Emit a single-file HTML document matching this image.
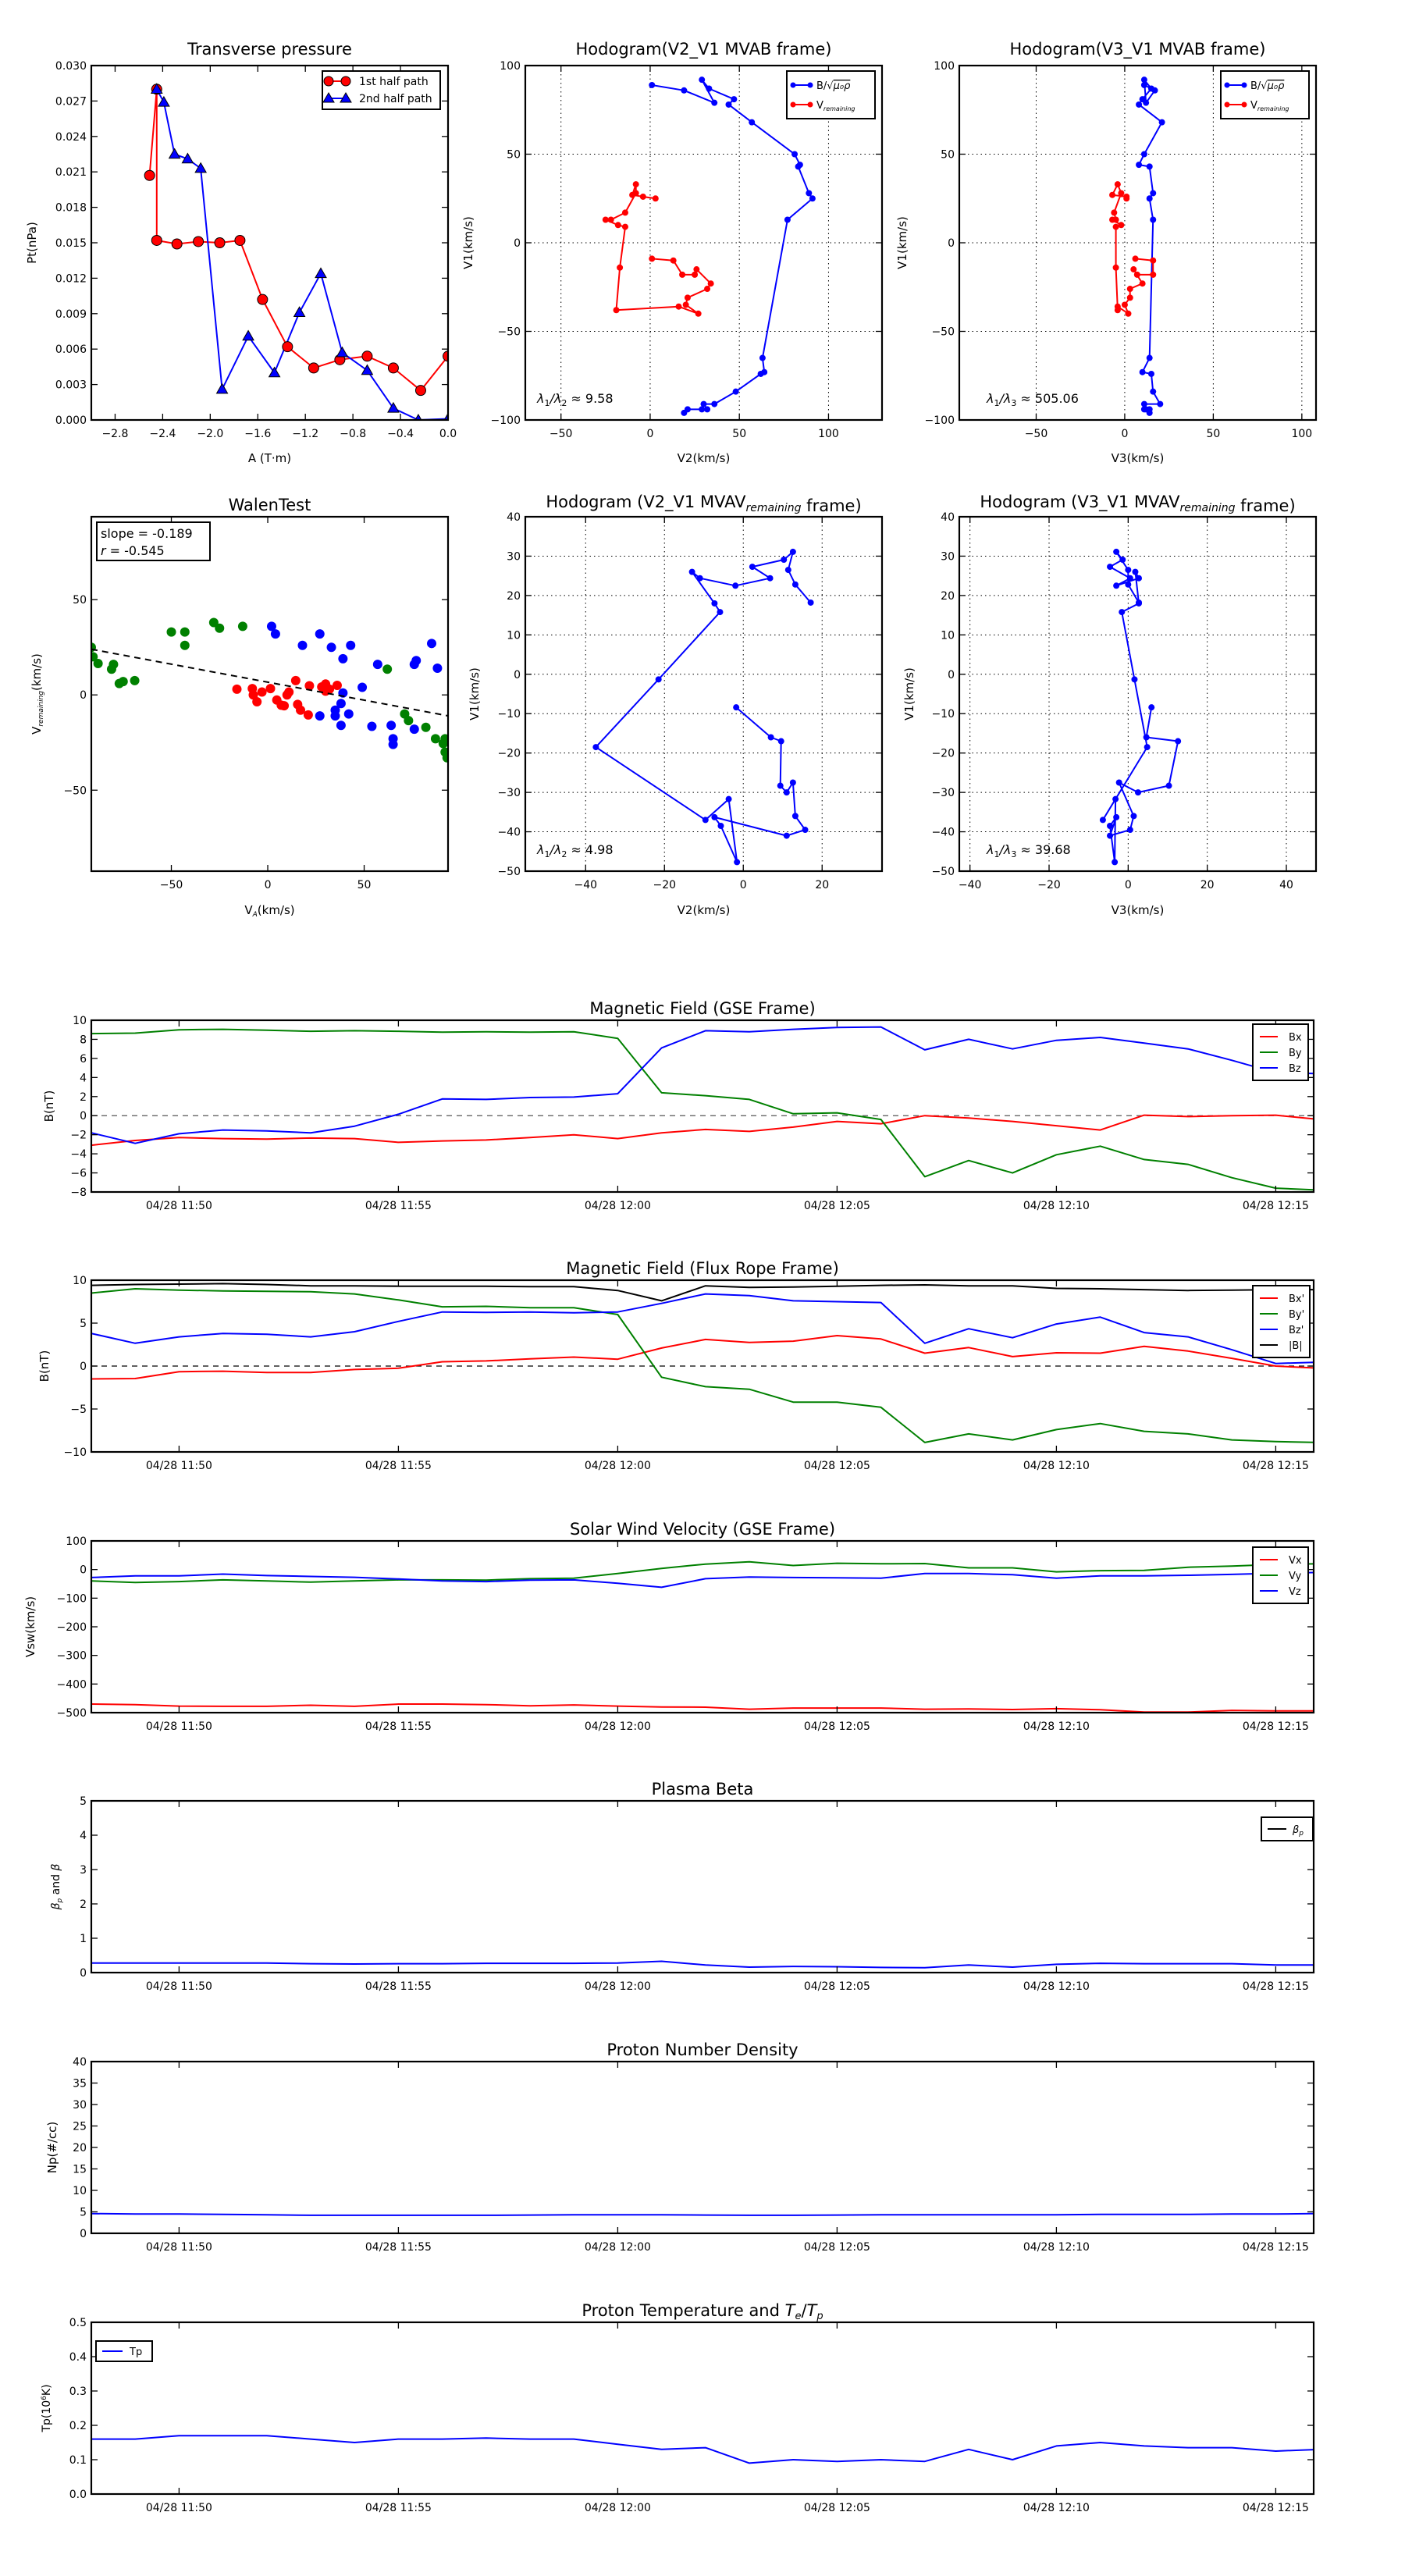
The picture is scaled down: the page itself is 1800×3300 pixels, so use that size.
<!DOCTYPE html>
<html><head><meta charset="utf-8"><title>Flux rope analysis</title>
<style>
html,body{margin:0;padding:0;background:#fff;}
svg{display:block;font-family:"DejaVu Sans","Liberation Sans",sans-serif;}
</style></head>
<body>
<svg id="fig" width="1800" height="3300" viewBox="0 0 1800 3300" xmlns="http://www.w3.org/2000/svg">
<rect x="0" y="0" width="1800" height="3300" fill="#fff"/>
</svg>
<script>
// ===== DATA =====
// Transverse pressure
const ptA1 = [-2.51,-2.45,-2.45,-2.28,-2.10,-1.92,-1.75,-1.56,-1.35,-1.13,-0.91,-0.68,-0.46,-0.23,0.0];
const ptP1 = [0.0207,0.0280,0.0152,0.0149,0.0151,0.0150,0.0152,0.0102,0.0062,0.0044,0.0051,0.0054,0.0044,0.0025,0.0054];
const ptA2 = [-2.45,-2.39,-2.30,-2.19,-2.08,-1.90,-1.68,-1.46,-1.25,-1.07,-0.89,-0.68,-0.46,-0.25,0.0];
const ptP2 = [0.0280,0.0269,0.0225,0.0221,0.0213,0.0026,0.0071,0.0040,0.0091,0.0124,0.0057,0.0042,0.0010,0.0,0.0001];
// Hodogram MVAB
const mvabV1 = [89,86,79,92,87,81,78,68,50,44,43,28,25,13,-65,-73,-74,-84,-91,-91,-94,-94,-94,-96];
const mvabV2 = [1,19,36,29,33,47,44,57,81,84,83,89,91,77,63,64,62,48,36,30,32,29,21,19];
const mvabV3 = [11,17,12,11,15,10,8,21,11,8,14,16,14,16,14,10,15,16,20,11,12,14,11,14];
const remV1 = [25,26,27,33,28,17,13,13,10,9,-14,-38,-36,-40,-35,-31,-26,-23,-15,-18,-18,-10,-9];
const remV2 = [3,-4,-10,-8,-8,-14,-22,-25,-18,-14,-17,-19,16,27,20,21,32,34,26,25,18,13,1];
const remV3 = [1,1,-7,-4,-2,-6,-5,-7,-2,-5,-5,-4,-4,2,0,3,3,10,5,7,16,16,6];
// Walen test
const walGx = [-91.5,-90.6,-88,-81,-80,-77,-75,-69,-50,-43,-43,-28,-25,-13,62,71,73,82,87,91,92,93,92];
const walGy = [25,20,16.5,13.5,16,6,7,7.5,33,33,26,38,35,36,13.5,-10,-13.5,-17,-23,-25.5,-30,-33,-23];
const walBx = [2,4,18,27,33,43,39,49,39,38,35,42,35,27,38,54,57,76,77,85,88,64,65,65,76];
const walBy = [36,32,26,32,25,26,19,4,1,-4.5,-8,-10,-11,-11,-16,-16.5,16,16,18,27,14,-16,-23,-26,-18];
const walRx = [-16,-8,-7.5,-5.6,-3,1.4,4.7,7,8.5,10,11,14.5,15.5,17,21,21.6,28,30,32,36,30];
const walRy = [3,3.3,0,-3.6,1.5,3.3,-2.7,-5.4,-5.7,0,1.5,7.5,-5,-8,-10.5,4.8,4.2,5.7,3,5,2];
const walSlope = -0.189;
const walIntercept = 6.7;
// Hodogram MVAV remaining
const mvavV1 = [-8.4,-16,-17,-28.3,-30,-27.5,-36,-39.5,-41,-36.3,-38.5,-47.7,-31.7,-37,-18.5,-1.3,15.8,18,26,24.4,22.5,24.4,27.3,29.1,31.1,26.5,22.8,18.2];
const mvavV2 = [-1.8,7,9.6,9.4,11,12.6,13.2,15.7,11,-7.3,-5.7,-1.6,-3.7,-9.6,-37.4,-21.5,-5.9,-7.3,-13,-11,-2,6.8,2.3,10.3,12.6,11.4,13.2,17.1];
const mvavV3 = [5.9,4.6,12.6,10.3,2.5,-2.3,1.4,0.5,-4.6,-3,-4.6,-3.4,-3.2,-6.4,4.8,1.6,-1.6,2.7,1.8,2.7,-3,0.5,-4.6,-1.4,-3,0,0,2.7];
// Time series (minutes after 11:48)
const minutes = [0,1,2,3,4,5,6,7,8,9,10,11,12,13,14,15,16,17,18,19,20,21,22,23,24,25,26,27,28];
const gseBx = [-3.1,-2.6,-2.3,-2.4,-2.45,-2.35,-2.4,-2.8,-2.65,-2.55,-2.3,-2.0,-2.4,-1.8,-1.45,-1.65,-1.2,-0.6,-0.85,0.0,-0.25,-0.6,-1.05,-1.5,0.05,-0.1,0.0,0.05,-0.4];
const gseBy = [8.6,8.65,9.0,9.05,8.95,8.85,8.9,8.85,8.75,8.8,8.75,8.8,8.1,2.4,2.1,1.7,0.2,0.3,-0.4,-6.4,-4.7,-6.0,-4.1,-3.2,-4.6,-5.1,-6.5,-7.6,-7.8];
const gseBz = [-1.8,-2.9,-1.9,-1.5,-1.6,-1.8,-1.1,0.15,1.75,1.7,1.9,1.95,2.3,7.1,8.9,8.8,9.05,9.25,9.3,6.9,8.0,7.0,7.9,8.2,7.6,7.0,5.8,4.5,4.4];
const frBx = [-1.5,-1.45,-0.65,-0.6,-0.75,-0.75,-0.4,-0.25,0.5,0.6,0.85,1.05,0.8,2.1,3.1,2.75,2.9,3.55,3.15,1.5,2.15,1.1,1.55,1.5,2.3,1.75,0.9,0.0,-0.25];
const frBy = [8.5,9.0,8.85,8.75,8.7,8.65,8.4,7.7,6.9,6.95,6.8,6.8,6.0,-1.3,-2.4,-2.7,-4.2,-4.2,-4.8,-8.9,-7.9,-8.6,-7.4,-6.7,-7.6,-7.9,-8.6,-8.8,-8.9];
const frBz = [3.8,2.65,3.4,3.8,3.7,3.4,4.0,5.2,6.3,6.25,6.3,6.2,6.3,7.3,8.4,8.2,7.6,7.5,7.4,2.65,4.35,3.3,4.9,5.7,3.9,3.4,1.9,0.3,0.45];
const frBt = [9.4,9.5,9.55,9.6,9.5,9.35,9.35,9.3,9.3,9.3,9.25,9.25,8.8,7.6,9.35,9.15,9.2,9.3,9.4,9.45,9.35,9.35,9.05,9.0,8.9,8.8,8.85,8.9,8.9];
const vx = [-470,-472,-477,-478,-478,-474,-478,-470,-470,-472,-476,-473,-477,-480,-481,-488,-484,-484,-484,-488,-487,-489,-486,-490,-498,-498,-492,-494,-494];
const vy = [-40,-45,-42,-36,-40,-44,-40,-36,-36,-37,-32,-30,-14,4,19,27,14,22,20,21,6,6,-8,-4,-3,8,12,18,20];
const vz = [-28,-22,-22,-16,-21,-24,-27,-33,-40,-42,-37,-36,-48,-62,-32,-26,-28,-29,-30,-14,-14,-18,-30,-22,-22,-20,-17,-13,-10];
const betaP = [0.28,0.28,0.28,0.28,0.28,0.26,0.25,0.26,0.26,0.27,0.27,0.27,0.28,0.33,0.22,0.16,0.18,0.17,0.15,0.14,0.22,0.16,0.24,0.27,0.26,0.26,0.26,0.22,0.22];
const np = [4.6,4.5,4.5,4.4,4.3,4.2,4.2,4.2,4.2,4.2,4.25,4.3,4.3,4.3,4.25,4.2,4.2,4.25,4.3,4.3,4.3,4.3,4.3,4.4,4.4,4.4,4.5,4.5,4.6];
const tp = [0.16,0.16,0.17,0.17,0.17,0.16,0.15,0.16,0.16,0.163,0.16,0.16,0.145,0.13,0.135,0.09,0.10,0.095,0.10,0.095,0.13,0.10,0.14,0.15,0.14,0.135,0.135,0.125,0.13];
const timeTicks = [2,7,12,17,22,27];
const timeTickLabels = ['04/28 11:50','04/28 11:55','04/28 12:00','04/28 12:05','04/28 12:10','04/28 12:15'];

// ===== HELPERS =====
const NS = 'http://www.w3.org/2000/svg';
const svg = document.getElementById('fig');
function mk(parent, tag, attrs, name, text) {
  const el = document.createElementNS(NS, tag);
  for (const k in attrs) el.setAttribute(k, attrs[k]);
  
  
  if (text !== undefined && text !== null) el.textContent = text;
  parent.appendChild(el);
  return el;
}
function fmtNum(v, d) { const s = v.toFixed(d); return s.replace('-', '\u2212'); }
let clipId = 0;
function axes(name, L, T, W, H, xr, yr) {
  const g = mk(svg, 'g', {}, name);
  const sx = v => L + (v - xr[0]) / (xr[1] - xr[0]) * W;
  const sy = v => T + H - (v - yr[0]) / (yr[1] - yr[0]) * H;
  const cid = 'clip' + (clipId++);
  const defs = mk(g, 'defs', {}, name + '-defs');
  const cp = mk(defs, 'clipPath', {id: cid}, name + '-clip');
  mk(cp, 'rect', {x: L, y: T, width: W, height: H}, name + '-clip-rect');
  const plot = mk(g, 'g', {'clip-path': 'url(#' + cid + ')'}, name + '-plot-area');
  return {g, plot, sx, sy, L, T, W, H, xr, yr};
}
function grid(ax, xt, yt) {
  xt.forEach(v => mk(ax.plot, 'line', {x1: ax.sx(v), x2: ax.sx(v), y1: ax.T, y2: ax.T + ax.H, stroke: '#000', 'stroke-width': 1, 'stroke-dasharray': '1.5,4'}, 'x-gridline'));
  yt.forEach(v => mk(ax.plot, 'line', {x1: ax.L, x2: ax.L + ax.W, y1: ax.sy(v), y2: ax.sy(v), stroke: '#000', 'stroke-width': 1, 'stroke-dasharray': '1.5,4'}, 'y-gridline'));
}
function frame(ax, xt, xl, yt, yl, fs) {
  fs = fs || 14;
  const g = ax.g, B = ax.T + ax.H, R = ax.L + ax.W;
  xt.forEach((v, i) => {
    const x = ax.sx(v);
    mk(g, 'line', {x1: x, x2: x, y1: B, y2: B - 8, stroke: '#000', 'stroke-width': 1.3}, 'x-tick');
    mk(g, 'line', {x1: x, x2: x, y1: ax.T, y2: ax.T + 8, stroke: '#000', 'stroke-width': 1.3}, 'x-tick-top');
    mk(g, 'text', {x: x, y: B + 22, 'font-size': fs, 'text-anchor': 'middle'}, 'x-tick-label', xl[i]);
  });
  yt.forEach((v, i) => {
    const y = ax.sy(v);
    mk(g, 'line', {x1: ax.L, x2: ax.L + 8, y1: y, y2: y, stroke: '#000', 'stroke-width': 1.3}, 'y-tick');
    mk(g, 'line', {x1: R, x2: R - 8, y1: y, y2: y, stroke: '#000', 'stroke-width': 1.3}, 'y-tick-right');
    mk(g, 'text', {x: ax.L - 6, y: y + 5, 'font-size': fs, 'text-anchor': 'end'}, 'y-tick-label', yl[i]);
  });
  mk(g, 'rect', {x: ax.L, y: ax.T, width: ax.W, height: ax.H, fill: 'none', stroke: '#000', 'stroke-width': 2.2}, 'axes-frame');
}
function line(ax, xs, ys, color, name, w) {
  const pts = xs.map((x, i) => ax.sx(x).toFixed(1) + ',' + ax.sy(ys[i]).toFixed(1)).join(' ');
  return mk(ax.plot, 'polyline', {points: pts, fill: 'none', stroke: color, 'stroke-width': w || 2, 'stroke-linejoin': 'round'}, name);
}
function dots(ax, xs, ys, color, r, name, stroke) {
  xs.forEach((x, i) => mk(ax.plot, 'circle', {cx: ax.sx(x), cy: ax.sy(ys[i]), r: r, fill: color, stroke: stroke || 'none', 'stroke-width': 1}, name));
}
function tris(ax, xs, ys, color, s, name) {
  xs.forEach((x, i) => {
    const cx = ax.sx(x), cy = ax.sy(ys[i]);
    mk(ax.plot, 'polygon', {points: `${cx},${cy - s} ${cx - s},${cy + s * 0.75} ${cx + s},${cy + s * 0.75}`, fill: color, stroke: '#000', 'stroke-width': 1}, name);
  });
}
function title(ax, parts, name, y) {
  const t = mk(svg, 'text', {x: ax.L + ax.W / 2, y: y, 'font-size': 21, 'text-anchor': 'middle'}, name);
  parts.forEach(p => {
    if (typeof p === 'string') { mk(t, 'tspan', {}, name + '-part', p); }
    else { mk(t, 'tspan', {'font-size': 14, 'font-style': 'italic', dy: 5}, name + '-subscript', p.sub); mk(t, 'tspan', {dy: -5}, name + '-part', ''); }
  });
  return t;
}
function ylabel(x, y, text, name, fs) {
  return mk(svg, 'text', {x: x, y: y, 'font-size': fs || 15, 'text-anchor': 'middle', transform: `rotate(-90 ${x} ${y})`}, name, text);
}
function range(a, b, s) { const r = []; for (let v = a; v <= b + 1e-9; v += s) r.push(+v.toFixed(6)); return r; }

// ===== ROW 1 =====
const T1 = 84, H1 = 454, W1 = 457, T2 = 662;
const LX = [117, 673, 1229];

// Panel: Transverse pressure
{
  const ax = axes('transverse-pressure-chart', LX[0], T1, W1, H1, [-3.0, 0.0], [0, 0.030]);
  line(ax, ptA1, ptP1, '#ff0000', 'first-half-line', 2);
  line(ax, ptA2, ptP2, '#0000ff', 'second-half-line', 2);
  dots(ax, ptA1, ptP1, '#ff0000', 6.5, 'first-half-point', '#000');
  tris(ax, ptA2, ptP2, '#0000ff', 7, 'second-half-point');
  const xt = range(-2.8, 0.0, 0.4);
  const yt = range(0, 0.030, 0.003);
  frame(ax, xt, xt.map(v => fmtNum(v, 1)), yt, yt.map(v => fmtNum(v, 3)));
  title(ax, ['Transverse pressure'], 'transverse-pressure-title', 70);
  mk(svg, 'text', {x: ax.L + ax.W / 2, y: 592, 'font-size': 15, 'text-anchor': 'middle'}, 'x-axis-title', 'A (T\u00b7m)');
  ylabel(46, T1 + H1 / 2, 'Pt(nPa)', 'y-axis-title');
  const lg = mk(svg, 'g', {}, 'legend');
  mk(lg, 'rect', {x: 413, y: 91, width: 151, height: 49, fill: '#fff', stroke: '#000', 'stroke-width': 2}, 'legend-box');
  mk(lg, 'line', {x1: 421, x2: 443, y1: 104, y2: 104, stroke: '#ff0000', 'stroke-width': 2}, 'legend-line');
  mk(lg, 'circle', {cx: 421, cy: 104, r: 6, fill: '#ff0000', stroke: '#000'}, 'legend-marker');
  mk(lg, 'circle', {cx: 443, cy: 104, r: 6, fill: '#ff0000', stroke: '#000'}, 'legend-marker');
  mk(lg, 'text', {x: 460, y: 109, 'font-size': 14}, 'legend-entry', '1st half path');
  mk(lg, 'line', {x1: 421, x2: 443, y1: 126, y2: 126, stroke: '#0000ff', 'stroke-width': 2}, 'legend-line');
  mk(lg, 'polygon', {points: '421,119 414,131 428,131', fill: '#0000ff', stroke: '#000'}, 'legend-marker');
  mk(lg, 'polygon', {points: '443,119 436,131 450,131', fill: '#0000ff', stroke: '#000'}, 'legend-marker');
  mk(lg, 'text', {x: 460, y: 131, 'font-size': 14}, 'legend-entry', '2nd half path');
}

function hodoLegend(x, y) {
  const lg = mk(svg, 'g', {}, 'legend');
  mk(lg, 'rect', {x: x, y: y, width: 113, height: 61, fill: '#fff', stroke: '#000', 'stroke-width': 2}, 'legend-box');
  mk(lg, 'line', {x1: x + 8, x2: x + 30, y1: y + 18, y2: y + 18, stroke: '#0000ff', 'stroke-width': 2}, 'legend-line');
  mk(lg, 'circle', {cx: x + 8, cy: y + 18, r: 3.5, fill: '#0000ff'}, 'legend-marker');
  mk(lg, 'circle', {cx: x + 30, cy: y + 18, r: 3.5, fill: '#0000ff'}, 'legend-marker');
  const t1 = mk(lg, 'text', {x: x + 38, y: y + 23, 'font-size': 13}, 'legend-entry');
  mk(t1, 'tspan', {}, 'legend-text', 'B/\u221a');
  mk(t1, 'tspan', {'font-style': 'italic', 'text-decoration': 'overline'}, 'legend-text', '\u03bc\u2080\u03c1');
  mk(lg, 'line', {x1: x + 8, x2: x + 30, y1: y + 43, y2: y + 43, stroke: '#ff0000', 'stroke-width': 2}, 'legend-line');
  mk(lg, 'circle', {cx: x + 8, cy: y + 43, r: 3.5, fill: '#ff0000'}, 'legend-marker');
  mk(lg, 'circle', {cx: x + 30, cy: y + 43, r: 3.5, fill: '#ff0000'}, 'legend-marker');
  const t2 = mk(lg, 'text', {x: x + 38, y: y + 48, 'font-size': 13}, 'legend-entry');
  mk(t2, 'tspan', {}, 'legend-text', 'V');
  mk(t2, 'tspan', {'font-size': 8, 'font-style': 'italic', dy: 3}, 'legend-subscript', 'remaining');
}
function lambdaText(x, y, k, val) {
  const t = mk(svg, 'text', {x: x, y: y, 'font-size': 16}, 'eigenvalue-ratio');
  mk(t, 'tspan', {'font-style': 'italic'}, 'lambda', '\u03bb');
  mk(t, 'tspan', {'font-size': 11, dy: 4}, 'lambda-sub', '1');
  mk(t, 'tspan', {dy: -4, 'font-style': 'italic'}, 'lambda', '/\u03bb');
  mk(t, 'tspan', {'font-size': 11, dy: 4}, 'lambda-sub', k);
  mk(t, 'tspan', {dy: -4}, 'lambda-value', ' \u2248 ' + val);
}

// Hodogram V2_V1 MVAB
{
  const ax = axes('hodogram-v2-v1-mvab', LX[1], T1, W1, H1, [-70, 130], [-100, 100]);
  const xt = [-50, 0, 50, 100], yt = [-100, -50, 0, 50, 100];
  grid(ax, xt, yt);
  line(ax, mvabV2, mvabV1, '#0000ff', 'b-hodogram-line', 2);
  dots(ax, mvabV2, mvabV1, '#0000ff', 4, 'b-hodogram-point');
  line(ax, remV2, remV1, '#ff0000', 'v-hodogram-line', 2);
  dots(ax, remV2, remV1, '#ff0000', 4, 'v-hodogram-point');
  frame(ax, xt, xt.map(v => fmtNum(v, 0)), yt, yt.map(v => fmtNum(v, 0)));
  title(ax, ['Hodogram(V2_V1 MVAB frame)'], 'hodogram-v2-v1-mvab-title', 70);
  mk(svg, 'text', {x: ax.L + ax.W / 2, y: 592, 'font-size': 15, 'text-anchor': 'middle'}, 'x-axis-title', 'V2(km/s)');
  ylabel(605, T1 + H1 / 2, 'V1(km/s)', 'y-axis-title');
  hodoLegend(1008, 91);
  lambdaText(688, 516, '2', '9.58');
}
// Hodogram V3_V1 MVAB
{
  const ax = axes('hodogram-v3-v1-mvab', LX[2], T1, W1, H1, [-93.4, 108], [-100, 100]);
  const xt = [-50, 0, 50, 100], yt = [-100, -50, 0, 50, 100];
  grid(ax, xt, yt);
  line(ax, mvabV3, mvabV1, '#0000ff', 'b-hodogram-line', 2);
  dots(ax, mvabV3, mvabV1, '#0000ff', 4, 'b-hodogram-point');
  line(ax, remV3, remV1, '#ff0000', 'v-hodogram-line', 2);
  dots(ax, remV3, remV1, '#ff0000', 4, 'v-hodogram-point');
  frame(ax, xt, xt.map(v => fmtNum(v, 0)), yt, yt.map(v => fmtNum(v, 0)));
  title(ax, ['Hodogram(V3_V1 MVAB frame)'], 'hodogram-v3-v1-mvab-title', 70);
  mk(svg, 'text', {x: ax.L + ax.W / 2, y: 592, 'font-size': 15, 'text-anchor': 'middle'}, 'x-axis-title', 'V3(km/s)');
  ylabel(1161, T1 + H1 / 2, 'V1(km/s)', 'y-axis-title');
  hodoLegend(1564, 91);
  lambdaText(1264, 516, '3', '505.06');
}

// ===== ROW 2 =====
// Walen test
{
  const ax = axes('walen-test-chart', LX[0], T2, W1, H1, [-91.5, 93.5], [-92.5, 93.5]);
  dots(ax, walGx, walGy, '#008000', 6, 'walen-point-green');
  dots(ax, walBx, walBy, '#0000ff', 6, 'walen-point-blue');
  dots(ax, walRx, walRy, '#ff0000', 6, 'walen-point-red');
  const fx = [ax.xr[0], ax.xr[1]];
  line(ax, fx, fx.map(v => walSlope * v + walIntercept), '#000', 'fit-line', 2).setAttribute('stroke-dasharray', '8,6');
  const xt = [-50, 0, 50], yt = [-50, 0, 50];
  frame(ax, xt, xt.map(v => fmtNum(v, 0)), yt, yt.map(v => fmtNum(v, 0)));
  title(ax, ['WalenTest'], 'walen-test-title', 654);
  const xl = mk(svg, 'text', {x: ax.L + ax.W / 2, y: 1171, 'font-size': 15, 'text-anchor': 'middle'}, 'x-axis-title');
  mk(xl, 'tspan', {}, 'x-axis-title-part', 'V');
  mk(xl, 'tspan', {'font-size': 9, 'font-style': 'italic', dy: 3}, 'x-axis-title-sub', 'A');
  mk(xl, 'tspan', {dy: -3}, 'x-axis-title-part', '(km/s)');
  const yl = mk(svg, 'text', {x: 52, y: T2 + H1 / 2, 'font-size': 15, 'text-anchor': 'middle', transform: `rotate(-90 52 ${T2 + H1 / 2})`}, 'y-axis-title');
  mk(yl, 'tspan', {}, 'y-axis-title-part', 'V');
  mk(yl, 'tspan', {'font-size': 9, 'font-style': 'italic', dy: 3}, 'y-axis-title-sub', 'remaining');
  mk(yl, 'tspan', {dy: -3}, 'y-axis-title-part', '(km/s)');
  mk(svg, 'rect', {x: 124, y: 669, width: 145, height: 49, fill: '#fff', stroke: '#000', 'stroke-width': 2}, 'fit-stats-box');
  mk(svg, 'text', {x: 129, y: 689, 'font-size': 16}, 'slope-text', 'slope = -0.189');
  const rt = mk(svg, 'text', {x: 129, y: 711, 'font-size': 16}, 'correlation-text');
  mk(rt, 'tspan', {'font-style': 'italic'}, 'r-symbol', 'r');
  mk(rt, 'tspan', {}, 'r-value', ' = -0.545');
}
// Hodogram V2_V1 MVAV
{
  const ax = axes('hodogram-v2-v1-mvav', LX[1], T2, W1, H1, [-55.3, 35.2], [-50, 40]);
  const xt = [-40, -20, 0, 20], yt = range(-50, 40, 10);
  grid(ax, xt, yt);
  line(ax, mvavV2, mvavV1, '#0000ff', 'hodogram-line', 2);
  dots(ax, mvavV2, mvavV1, '#0000ff', 4, 'hodogram-point');
  frame(ax, xt, xt.map(v => fmtNum(v, 0)), yt, yt.map(v => fmtNum(v, 0)));
  title(ax, ['Hodogram (V2_V1 MVAV', {sub: 'remaining'}, ' frame)'], 'hodogram-v2-v1-mvav-title', 650);
  mk(svg, 'text', {x: ax.L + ax.W / 2, y: 1171, 'font-size': 15, 'text-anchor': 'middle'}, 'x-axis-title', 'V2(km/s)');
  ylabel(613, T2 + H1 / 2, 'V1(km/s)', 'y-axis-title');
  lambdaText(688, 1094, '2', '4.98');
}
// Hodogram V3_V1 MVAV
{
  const ax = axes('hodogram-v3-v1-mvav', LX[2], T2, W1, H1, [-42.7, 47.5], [-50, 40]);
  const xt = [-40, -20, 0, 20, 40], yt = range(-50, 40, 10);
  grid(ax, xt, yt);
  line(ax, mvavV3, mvavV1, '#0000ff', 'hodogram-line', 2);
  dots(ax, mvavV3, mvavV1, '#0000ff', 4, 'hodogram-point');
  frame(ax, xt, xt.map(v => fmtNum(v, 0)), yt, yt.map(v => fmtNum(v, 0)));
  title(ax, ['Hodogram (V3_V1 MVAV', {sub: 'remaining'}, ' frame)'], 'hodogram-v3-v1-mvav-title', 650);
  mk(svg, 'text', {x: ax.L + ax.W / 2, y: 1171, 'font-size': 15, 'text-anchor': 'middle'}, 'x-axis-title', 'V3(km/s)');
  ylabel(1170, T2 + H1 / 2, 'V1(km/s)', 'y-axis-title');
  lambdaText(1264, 1094, '3', '39.68');
}

// ===== TIME SERIES =====
const TS_L = 117, TS_W = 1566, TS_H = 220;
const TS_T = [1307, 1640, 1974, 2307, 2641, 2975];
const xmaxMin = TS_W / 56.2;
function tsLegend(x, y, w, items, rowH) {
  const lg = mk(svg, 'g', {}, 'legend');
  const h = items.length * rowH + 12;
  mk(lg, 'rect', {x: x, y: y, width: w, height: h, fill: '#fff', stroke: '#000', 'stroke-width': 2}, 'legend-box');
  items.forEach((it, i) => {
    const cy = y + 12 + rowH * i + rowH / 2 - 6;
    mk(lg, 'line', {x1: x + 9, x2: x + 32, y1: cy, y2: cy, stroke: it.c, 'stroke-width': 2}, 'legend-line');
    mk(lg, 'text', {x: x + 46, y: cy + 5, 'font-size': 13}, 'legend-entry', it.t);
  });
}
function tsPanel(name, k, yr, yt, yl, series, zero) {
  const ax = axes(name, TS_L, TS_T[k], TS_W, TS_H, [0, xmaxMin], yr);
  if (zero) mk(ax.plot, 'line', {x1: ax.L, x2: ax.L + ax.W, y1: ax.sy(0), y2: ax.sy(0), stroke: zero, 'stroke-width': 1.3, 'stroke-dasharray': '7,6'}, 'zero-line');
  series.forEach(s => line(ax, minutes, s.d, s.c, s.n, 2));
  frame(ax, timeTicks, timeTickLabels, yt, yl, 14);
  return ax;
}
{
  const ax = tsPanel('magnetic-field-gse-chart', 0, [-8, 10], range(-8, 10, 2), range(-8, 10, 2).map(v => fmtNum(v, 0)),
    [{d: gseBx, c: '#ff0000', n: 'bx-line'}, {d: gseBy, c: '#008000', n: 'by-line'}, {d: gseBz, c: '#0000ff', n: 'bz-line'}], '#555');
  title(ax, ['Magnetic Field (GSE Frame)'], 'magnetic-field-gse-title', 1299);
  ylabel(68, TS_T[0] + TS_H / 2, 'B(nT)', 'y-axis-title');
  tsLegend(1605, 1312, 71, [{c: '#ff0000', t: 'Bx'}, {c: '#008000', t: 'By'}, {c: '#0000ff', t: 'Bz'}], 20);
}
{
  const ax = tsPanel('magnetic-field-flux-rope-chart', 1, [-10, 10], range(-10, 10, 5), range(-10, 10, 5).map(v => fmtNum(v, 0)),
    [{d: frBx, c: '#ff0000', n: 'bx-prime-line'}, {d: frBy, c: '#008000', n: 'by-prime-line'}, {d: frBz, c: '#0000ff', n: 'bz-prime-line'}, {d: frBt, c: '#000', n: 'b-magnitude-line'}], '#000');
  title(ax, ['Magnetic Field (Flux Rope Frame)'], 'magnetic-field-flux-rope-title', 1632);
  ylabel(62, TS_T[1] + TS_H / 2, 'B(nT)', 'y-axis-title');
  tsLegend(1605, 1647, 73, [{c: '#ff0000', t: "Bx'"}, {c: '#008000', t: "By'"}, {c: '#0000ff', t: "Bz'"}, {c: '#000', t: '|B|'}], 20);
}
{
  const ax = tsPanel('solar-wind-velocity-chart', 2, [-500, 100], range(-500, 100, 100), range(-500, 100, 100).map(v => fmtNum(v, 0)),
    [{d: vx, c: '#ff0000', n: 'vx-line'}, {d: vy, c: '#008000', n: 'vy-line'}, {d: vz, c: '#0000ff', n: 'vz-line'}], null);
  title(ax, ['Solar Wind Velocity (GSE Frame)'], 'solar-wind-velocity-title', 1966);
  ylabel(44, TS_T[2] + TS_H / 2, 'Vsw(km/s)', 'y-axis-title');
  tsLegend(1605, 1982, 71, [{c: '#ff0000', t: 'Vx'}, {c: '#008000', t: 'Vy'}, {c: '#0000ff', t: 'Vz'}], 20);
}
{
  const ax = tsPanel('plasma-beta-chart', 3, [0, 5], range(0, 5, 1), range(0, 5, 1).map(v => fmtNum(v, 0)),
    [{d: betaP, c: '#0000ff', n: 'beta-p-line'}], null);
  title(ax, ['Plasma Beta'], 'plasma-beta-title', 2299);
  const yl = mk(svg, 'text', {x: 76, y: TS_T[3] + TS_H / 2, 'font-size': 14, 'text-anchor': 'middle', 'font-style': 'italic', transform: `rotate(-90 76 ${TS_T[3] + TS_H / 2})`}, 'y-axis-title');
  mk(yl, 'tspan', {}, 'y-axis-title-part', '\u03b2');
  mk(yl, 'tspan', {'font-size': 9, dy: 3}, 'y-axis-title-sub', 'p');
  mk(yl, 'tspan', {dy: -3, 'font-style': 'normal'}, 'y-axis-title-part', ' and ');
  mk(yl, 'tspan', {}, 'y-axis-title-part', '\u03b2');
  const lg = mk(svg, 'g', {}, 'legend');
  mk(lg, 'rect', {x: 1616, y: 2328, width: 66, height: 30, fill: '#fff', stroke: '#000', 'stroke-width': 2}, 'legend-box');
  mk(lg, 'line', {x1: 1624, x2: 1648, y1: 2343, y2: 2343, stroke: '#000', 'stroke-width': 2}, 'legend-line');
  const lt = mk(lg, 'text', {x: 1656, y: 2348, 'font-size': 13, 'font-style': 'italic'}, 'legend-entry');
  mk(lt, 'tspan', {}, 'legend-text', '\u03b2');
  mk(lt, 'tspan', {'font-size': 9, dy: 3}, 'legend-sub', 'p');
}
{
  const ax = tsPanel('proton-density-chart', 4, [0, 40], range(0, 40, 5), range(0, 40, 5).map(v => fmtNum(v, 0)),
    [{d: np, c: '#0000ff', n: 'np-line'}], null);
  title(ax, ['Proton Number Density'], 'proton-density-title', 2633);
  ylabel(72, TS_T[4] + TS_H / 2, 'Np(#/cc)', 'y-axis-title');
}
{
  const ax = tsPanel('proton-temperature-chart', 5, [0, 0.5], range(0, 0.5, 0.1), range(0, 0.5, 0.1).map(v => fmtNum(v, 1)),
    [{d: tp, c: '#0000ff', n: 'tp-line'}], null);
  const t = title(ax, ['Proton Temperature and '], 'proton-temperature-title', 2967);
  mk(t, 'tspan', {'font-style': 'italic'}, 'title-part', 'T');
  mk(t, 'tspan', {'font-size': 13, dy: 4, 'font-style': 'italic'}, 'title-sub', 'e');
  mk(t, 'tspan', {dy: -4}, 'title-part', '/');
  mk(t, 'tspan', {'font-style': 'italic'}, 'title-part', 'T');
  mk(t, 'tspan', {'font-size': 13, dy: 4, 'font-style': 'italic'}, 'title-sub', 'p');
  const yl = mk(svg, 'text', {x: 64, y: TS_T[5] + TS_H / 2, 'font-size': 14, 'text-anchor': 'middle', transform: `rotate(-90 64 ${TS_T[5] + TS_H / 2})`}, 'y-axis-title');
  mk(yl, 'tspan', {}, 'y-axis-title-part', 'Tp(10');
  mk(yl, 'tspan', {'font-size': 9, dy: -5}, 'y-axis-title-sup', '6');
  mk(yl, 'tspan', {dy: 5}, 'y-axis-title-part', 'K)');
  const lg = mk(svg, 'g', {}, 'legend');
  mk(lg, 'rect', {x: 123, y: 2999, width: 72, height: 26, fill: '#fff', stroke: '#000', 'stroke-width': 2}, 'legend-box');
  mk(lg, 'line', {x1: 131, x2: 157, y1: 3012, y2: 3012, stroke: '#0000ff', 'stroke-width': 2}, 'legend-line');
  mk(lg, 'text', {x: 166, y: 3017, 'font-size': 13}, 'legend-entry', 'Tp');
}
</script>
</body></html>
